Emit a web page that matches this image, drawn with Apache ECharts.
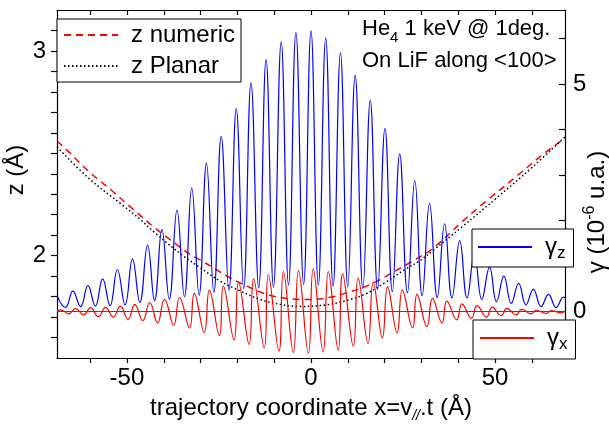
<!DOCTYPE html>
<html>
<head>
    <meta charset="utf-8" />
    <title>He4 1 keV on LiF - trajectory and forces</title>
    <style>
        html, body { margin: 0; padding: 0; background: #fff; }
        #chart { width: 609px; height: 428px; }
    </style>
</head>
<body>
    <div id="chart"></div>
    <script src="https://cdn.jsdelivr.net/npm/echarts@6/dist/echarts.min.js"></script>
    <script>
        // axis ticks and labels
        var xTicks = [-60, -50, -40, -30, -20, -10, 0, 10, 20, 30, 40, 50, 60];
        var xLabels = [-50, 0, 50];
        var zTicks = [1.6, 1.7, 1.8, 1.9, 2, 2.1, 2.2, 2.3, 2.4, 2.5, 2.6, 2.7, 2.8, 2.9, 3, 3.1];
        var zLabels = [2, 3];
        var gTicks = [0, 1, 2, 3, 4, 5, 6];
        var gLabels = [0, 5];

        // z numeric (left axis, Å)
        var zNumeric = [
            [-69, 2.56], [-65.8, 2.507], [-60.3, 2.41], [-54, 2.316], [-48.1, 2.223], [-42.3, 2.134],
            [-36.4, 2.053], [-32.8, 2.005], [-30, 1.978], [-26.5, 1.94], [-22, 1.892], [-17.4, 1.851],
            [-12, 1.811], [-6.6, 1.791], [-1, 1.786], [4.7, 1.795], [10, 1.82], [16.4, 1.862],
            [22.8, 1.924], [28.2, 1.98], [33.1, 2.035], [41.3, 2.17], [48.5, 2.28], [56, 2.39],
            [62, 2.48], [69, 2.575]
        ];
        // z Planar (left axis, Å)
        var zPlanar = [
            [-69, 2.531], [-60.3, 2.377], [-51.3, 2.248], [-46.6, 2.18], [-42.3, 2.11], [-34.8, 2.0],
            [-30, 1.94], [-24.7, 1.876], [-19.2, 1.827], [-13.8, 1.786], [-8.4, 1.762], [-3, 1.752],
            [3.8, 1.759], [9.2, 1.779], [14.6, 1.811], [20, 1.867], [25.5, 1.932], [29.5, 1.975],
            [33.1, 2.025], [41, 2.14], [50.3, 2.28], [60, 2.43], [69, 2.58]
        ];
        // gamma z (right axis, 10^-6 u.a.)
        var gammaZ = [
            [-69, 0.35], [-66.7, 0.09], [-64.7, 0.45], [-62.6, 0.11], [-60.6, 0.57], [-58.6, 0.12],
            [-56.6, 0.72], [-54.6, 0.13], [-52.6, 0.92], [-50.5, 0.15], [-48.5, 1.16], [-46.5, 0.20],
            [-44.4, 1.46], [-42.5, 0.24], [-40.5, 1.80], [-38.5, 0.27], [-36.4, 2.23], [-34.4, 0.33],
            [-32.4, 2.72], [-30.4, 0.36], [-28.4, 3.26], [-26.4, 0.42], [-24.4, 3.85], [-22.3, 0.47],
            [-20.3, 4.46], [-18.3, 0.51], [-16.3, 5.03], [-14.2, 0.52], [-12.2, 5.54], [-10.2, 0.54],
            [-8.1, 5.93], [-6.1, 0.58], [-4.1, 6.14], [-2.0, 0.60], [0, 6.17], [2.0, 0.58],
            [4.0, 6.01], [6.0, 0.56], [8.0, 5.69], [10.0, 0.54], [12.0, 5.20], [14.1, 0.50],
            [16.1, 4.65], [18.1, 0.49], [20.1, 4.03], [22.1, 0.44], [24.1, 3.46], [26.2, 0.41],
            [28.2, 2.88], [30.2, 0.35], [32.2, 2.38], [34.3, 0.31], [36.3, 1.93], [38.3, 0.30],
            [40.4, 1.56], [42.4, 0.30], [44.4, 1.25], [46.4, 0.27], [48.5, 0.97], [50.4, 0.22],
            [52.4, 0.78], [54.4, 0.18], [56.4, 0.62], [58.4, 0.15], [60.4, 0.49], [62.5, 0.11],
            [64.5, 0.38], [66.6, 0.09], [68.6, 0.32], [69, 0.31]
        ];
        // gamma x (right axis, 10^-6 u.a.)
        var gammaX = [
            [-69, 0.03], [-68.0, 0.04], [-65.8, -0.05], [-64.0, 0.065], [-61.7, -0.07], [-59.9, 0.087],
            [-57.8, -0.11], [-55.8, 0.093], [-53.7, -0.12], [-51.8, 0.12], [-49.7, -0.17], [-47.9, 0.16],
            [-45.7, -0.20], [-43.8, 0.20], [-41.7, -0.25], [-39.8, 0.27], [-37.3, -0.30], [-35.7, 0.31],
            [-33.0, -0.36], [-31.7, 0.40], [-29.0, -0.46], [-27.6, 0.47], [-24.9, -0.53], [-23.8, 0.56],
            [-20.9, -0.62], [-19.7, 0.65], [-16.8, -0.72], [-15.6, 0.72], [-12.7, -0.80], [-11.6, 0.81],
            [-8.7, -0.87], [-7.5, 0.88], [-4.8, -0.90], [-3.4, 0.90], [-0.7, -0.92], [0.6, 0.94],
            [3.3, -0.89], [4.7, 0.88], [7.4, -0.85], [8.6, 0.83], [11.5, -0.76], [12.8, 0.74],
            [15.5, -0.70], [16.9, 0.65], [19.4, -0.58], [20.8, 0.55], [23.4, -0.47], [24.8, 0.47],
            [27.6, -0.36], [28.8, 0.38], [31.5, -0.33], [33.0, 0.29], [35.6, -0.25], [36.9, 0.23],
            [39.6, -0.18], [41.0, 0.17], [43.6, -0.15], [45.1, 0.13], [47.7, -0.12], [49.2, 0.10],
            [51.7, -0.09], [53.2, 0.07], [55.8, -0.07], [57.2, 0.05], [59.8, -0.05], [61.2, 0.03],
            [63.9, -0.04], [65.3, 0.02], [67.9, -0.03], [69, 0.01]
        ];

        var font = '"Liberation Sans", Arial, sans-serif';
        var black = '#000';

        var chart = echarts.init(document.getElementById('chart'));

        function legendBox(names, left, top, pad, fmt) {
            return {
                data: names,
                orient: 'vertical',
                left: left,
                top: top,
                padding: pad,
                itemGap: 7,
                itemWidth: 54,
                itemHeight: 14,
                selectedMode: false,
                backgroundColor: '#fff',
                borderColor: black,
                borderWidth: 1,
                borderRadius: 0,
                itemStyle: { opacity: 0 },
                formatter: fmt,
                textStyle: {
                    fontFamily: font, fontSize: 24, color: black, padding: [0, 0, 0, 8],
                    rich: {
                        g: { fontFamily: font, fontSize: 24, color: black, lineHeight: 30 },
                        s: { fontFamily: font, fontSize: 17, color: black, verticalAlign: 'bottom', lineHeight: 30 }
                    }
                }
            };
        }

        var option = {
            backgroundColor: '#fff',
            animation: false,
            textStyle: { fontFamily: font },
            grid: { left: 57, right: 44, top: 10, bottom: 66 },
            xAxis: [
                {
                    type: 'value', min: -69, max: 69, position: 'bottom',
                    name: '{n|trajectory coordinate x=v}{s|//}{n|.t (Å)}',
                    nameLocation: 'middle', nameGap: 35,
                    nameTextStyle: {
                        rich: {
                            n: { fontFamily: font, fontSize: 24, color: black, lineHeight: 30 },
                            s: { fontFamily: font, fontSize: 14, fontStyle: 'italic', color: black, verticalAlign: 'bottom', lineHeight: 30 }
                        }
                    },
                    axisLine: { onZero: false, lineStyle: { color: black, width: 1.2 } },
                    axisTick: { customValues: xTicks, length: 5, lineStyle: { color: black, width: 1.2 } },
                    axisLabel: { customValues: xLabels, fontFamily: font, fontSize: 24, color: black, margin: 8 },
                    splitLine: { show: false }
                },
                {
                    type: 'value', min: -69, max: 69, position: 'top',
                    axisLine: { onZero: false, lineStyle: { color: black, width: 1.2 } },
                    axisTick: { customValues: xTicks, inside: true, length: 5, lineStyle: { color: black, width: 1.2 } },
                    axisLabel: { show: false },
                    splitLine: { show: false }
                }
            ],
            yAxis: [
                {
                    type: 'value', min: 1.5, max: 3.2, position: 'left',
                    axisLine: { show: true, onZero: false, lineStyle: { color: black, width: 1.2 } },
                    axisTick: { show: true, customValues: zTicks, length: 6, lineStyle: { color: black, width: 1.2 } },
                    axisLabel: { customValues: zLabels, fontFamily: font, fontSize: 24, color: black, margin: 11 },
                    splitLine: { show: false }
                },
                {
                    type: 'value', min: -1.02, max: 6.63, position: 'right',
                    axisLine: { show: true, onZero: false, lineStyle: { color: black, width: 1.2 } },
                    axisTick: { show: true, customValues: gTicks, inside: true, length: 6, lineStyle: { color: black, width: 1.2 } },
                    axisLabel: { customValues: gLabels, fontFamily: font, fontSize: 24, color: black, margin: 8 },
                    splitLine: { show: false }
                }
            ],
            legend: [
                legendBox(['z numeric', 'z Planar'], 57, 19, [4, 6, 4, 6]),
                legendBox(['γz'], 472, 229, [6, 8, 5, 5], function () { return '{g|γ}{s|z}'; }),
                legendBox(['γx'], 473, 320, [6, 8, 6, 6], function () { return '{g|γ}{s|x}'; })
            ],
            graphic: [
                {
                    type: 'text', x: 16, y: 170, rotation: Math.PI / 2,
                    style: {
                        text: 'z (Å)', fontFamily: font, fontSize: 24, fill: black,
                        align: 'center', verticalAlign: 'middle', textAlign: 'center', textVerticalAlign: 'middle'
                    }
                },
                {
                    type: 'text', x: 597, y: 212, rotation: Math.PI / 2,
                    style: {
                        text: '{n|γ (10}{p|-6}{n| u.a.)}', fill: black,
                        align: 'center', verticalAlign: 'middle', textAlign: 'center', textVerticalAlign: 'middle',
                        rich: {
                            n: { fontFamily: font, fontSize: 24, fill: black, color: black, lineHeight: 30 },
                            p: { fontFamily: font, fontSize: 16, fill: black, color: black, verticalAlign: 'top', lineHeight: 30 }
                        }
                    }
                },
                {
                    type: 'text', x: 362, y: 13,
                    style: {
                        text: '{n|He}{s|4}{n| 1 keV @ 1deg.}\n{n|On LiF along <100>}', fill: black,
                        align: 'left', verticalAlign: 'top', textAlign: 'left', textVerticalAlign: 'top',
                        rich: {
                            n: { fontFamily: font, fontSize: 22, fill: black, color: black, lineHeight: 32 },
                            s: { fontFamily: font, fontSize: 15, fill: black, color: black, verticalAlign: 'bottom', lineHeight: 32 }
                        }
                    }
                }
            ],
            series: [
                {
                    name: 'z numeric', type: 'line', xAxisIndex: 0, yAxisIndex: 0,
                    data: zNumeric, symbol: 'none', smooth: 0.4, z: 2,
                    itemStyle: { color: '#ff0000' },
                    lineStyle: { color: '#ff0000', width: 1.5, type: [7, 5] }
                },
                {
                    name: 'z Planar', type: 'line', xAxisIndex: 0, yAxisIndex: 0,
                    data: zPlanar, symbol: 'none', smooth: 0.4, z: 2,
                    itemStyle: { color: black },
                    lineStyle: { color: black, width: 1.5, type: [1.5, 2.5] }
                },
                {
                    name: 'γz', type: 'line', xAxisIndex: 0, yAxisIndex: 1,
                    data: gammaZ, symbol: 'none', smooth: 0.45, z: 3,
                    itemStyle: { color: '#0000ff' },
                    lineStyle: { color: '#0000ff', width: 1.2 }
                },
                {
                    name: 'γx', type: 'line', xAxisIndex: 0, yAxisIndex: 1,
                    data: gammaX, symbol: 'none', smooth: 0.45, z: 3,
                    itemStyle: { color: '#ff0000' },
                    lineStyle: { color: '#ff0000', width: 1.2 },
                    markLine: {
                        silent: true, symbol: 'none', label: { show: false },
                        lineStyle: { color: '#ff0000', width: 1.2, type: 'solid' },
                        data: [{ yAxis: 0 }]
                    }
                }
            ]
        };

        chart.setOption(option);
    </script>
</body>
</html>
